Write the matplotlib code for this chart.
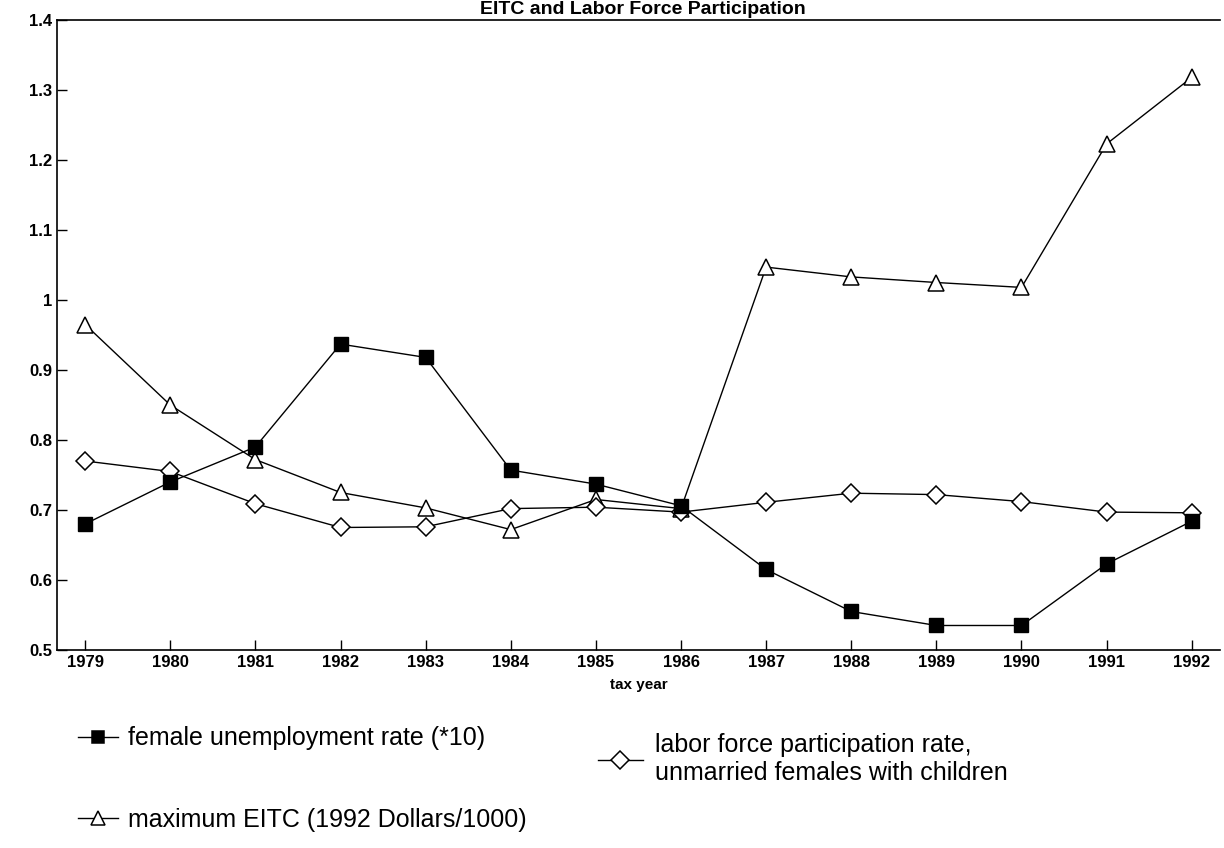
import matplotlib.pyplot as plt
from matplotlib.lines import Line2D

plt.rcParams['font.family'] = ['Liberation Sans', 'DejaVu Sans']

years = [1979, 1980, 1981, 1982, 1983, 1984, 1985, 1986, 1987, 1988, 1989, 1990, 1991, 1992]
unemployment = [0.680, 0.740, 0.790, 0.937, 0.918, 0.757, 0.737, 0.706, 0.615, 0.555, 0.535, 0.535, 0.623, 0.684]
participation = [0.770, 0.755, 0.709, 0.675, 0.676, 0.702, 0.704, 0.697, 0.711, 0.724, 0.722, 0.712, 0.697, 0.696]
max_eitc = [0.965, 0.850, 0.772, 0.725, 0.703, 0.672, 0.715, 0.702, 1.047, 1.033, 1.025, 1.018, 1.223, 1.318]
yticks = [0.5, 0.6, 0.7, 0.8, 0.9, 1.0, 1.1, 1.2, 1.3, 1.4]
ytick_labels = ['0.5', '0.6', '0.7', '0.8', '0.9', '1', '1.1', '1.2', '1.3', '1.4']

lab_unemp = 'female unemployment rate (*10)'
lab_part = 'labor force participation rate,\nunmarried females with children'
lab_eitc = 'maximum EITC (1992 Dollars/1000)'

fig = plt.figure(figsize=(12.24, 8.48), dpi=100)
ax = fig.add_axes([0.0466, 0.2335, 0.95, 0.7429])

ax.plot(years, max_eitc, color='black', lw=1, marker='^', ms=11,
        mfc='white', mec='black', mew=1.1, label=lab_eitc)
ax.plot(years, participation, color='black', lw=1, marker='D', ms=9,
        mfc='white', mec='black', mew=1.1, label=lab_part)
ax.plot(years, unemployment, color='black', lw=1, marker='s', ms=10,
        mfc='black', mec='black', label=lab_unemp)

ax.set_xlim(1978.67, 1992.33)
ax.set_ylim(0.5, 1.4)
ax.set_xticks(years)
ax.set_xticklabels([str(y) for y in years], fontsize=12, fontweight='bold')
ax.set_yticks(yticks)
ax.set_yticklabels(ytick_labels, fontsize=12, fontweight='bold')
ax.tick_params(direction='in', length=7, width=1)
ax.spines['right'].set_visible(False)
for s in ['left', 'bottom', 'top']:
    ax.spines[s].set_linewidth(1.2)
ax.set_xlabel('tax year', fontsize=11, fontweight='bold', labelpad=6)

# title is mostly cut off in the original scan; keep it small and visible
fig.text(0.525, 0.999, 'EITC and Labor Force Participation', ha='center', va='top',
         fontsize=14, fontweight='bold')

def handle(marker, ms, fill):
    return Line2D([0], [0], color='black', lw=1, marker=marker, ms=ms,
                  mfc=fill, mec='black', mew=1.1)

fig.legend([handle('s', 9, 'black'), handle('^', 10, 'white')], [lab_unemp, lab_eitc],
           loc='upper left', bbox_to_anchor=(0.045, 0.17), frameon=False,
           fontsize=18, handlelength=1.6, labelspacing=2.3, handletextpad=0.4)
fig.legend([handle('D', 9, 'white')], [lab_part],
           loc='upper left', bbox_to_anchor=(0.47, 0.162), frameon=False,
           fontsize=18, handlelength=1.8, handletextpad=0.5)

fig.savefig('out.png', dpi=100)
